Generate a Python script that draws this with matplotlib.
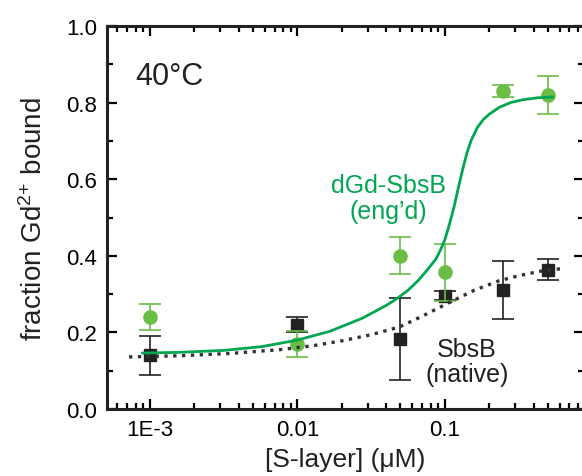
import matplotlib
matplotlib.use('Agg')
import matplotlib.pyplot as plt
from matplotlib.ticker import FixedLocator, LogLocator, MultipleLocator, FuncFormatter, NullFormatter

plt.rcParams['font.family'] = ['Liberation Sans', 'DejaVu Sans']
plt.rcParams['mathtext.default'] = 'regular'

# measured points
conc = [0.001, 0.01, 0.05, 0.1, 0.25, 0.5]
eng_frac = [0.24, 0.17, 0.40, 0.357, 0.83, 0.82]
eng_err = [0.033, 0.033, 0.048, 0.074, 0.016, 0.05]
nat_frac = [0.14, 0.22, 0.183, 0.296, 0.31, 0.364]
nat_err = [0.05, 0.02, 0.107, 0.012, 0.076, 0.028]

# fit curves
eng_fit_x = [0.00089, 0.00158, 0.00316, 0.00575, 0.0100, 0.0166, 0.0275, 0.0398, 0.0468,
             0.0562, 0.0661, 0.0759, 0.0871, 0.0933, 0.100, 0.107, 0.115, 0.123, 0.132,
             0.141, 0.151, 0.166, 0.182, 0.200, 0.234, 0.282, 0.339, 0.427, 0.537]
eng_fit_y = [0.146, 0.148, 0.153, 0.163, 0.180, 0.203, 0.237, 0.270, 0.287,
             0.310, 0.336, 0.363, 0.392, 0.415, 0.442, 0.480, 0.525, 0.575, 0.625,
             0.668, 0.702, 0.735, 0.756, 0.770, 0.788, 0.801, 0.808, 0.813, 0.815]
nat_fit_x = [0.00072, 0.00158, 0.00347, 0.00759, 0.0126, 0.0200, 0.0316, 0.0490,
             0.0708, 0.107, 0.158, 0.234, 0.316, 0.447, 0.631]
nat_fit_y = [0.136, 0.139, 0.145, 0.155, 0.165, 0.178, 0.194, 0.214,
             0.243, 0.278, 0.310, 0.335, 0.348, 0.360, 0.367]

green_line = '#00a651'
green_pts = '#6abd45'
dark = '#222222'

fig = plt.figure(figsize=(5.82, 4.77), dpi=100)
ax = fig.add_axes([0.184, 0.1405, 0.819, 0.8025])

ax.errorbar(conc, nat_frac, yerr=nat_err, fmt='s', color=dark, ms=8.5,
            elinewidth=1.2, capsize=8, capthick=1.2, zorder=3)
ax.errorbar(conc, eng_frac, yerr=eng_err, fmt='o', color=green_pts, ms=9.5,
            elinewidth=1.2, capsize=8, capthick=1.2, zorder=4)
ax.plot(nat_fit_x, nat_fit_y, ':', color='#333333', lw=2.4, zorder=5)
ax.plot(eng_fit_x, eng_fit_y, '-', color=green_line, lw=2.0, zorder=6)

ax.set_xscale('log')
ax.set_xlim(5.11e-4, 0.876)
ax.set_ylim(0, 1.0)

ax.xaxis.set_major_locator(FixedLocator([0.001, 0.01, 0.1]))
ax.xaxis.set_major_formatter(FuncFormatter(lambda v, p: {0.001: '1E-3', 0.01: '0.01', 0.1: '0.1'}.get(round(v, 4), '')))
ax.xaxis.set_minor_locator(LogLocator(base=10, subs=range(2, 10), numticks=20))
ax.xaxis.set_minor_formatter(NullFormatter())
ax.yaxis.set_major_locator(MultipleLocator(0.2))
ax.yaxis.set_minor_locator(MultipleLocator(0.1))
ax.yaxis.set_major_formatter(FuncFormatter(lambda v, p: '%.1f' % v))

ax.tick_params(which='both', direction='in', top=True, right=True, width=1.6, labelsize=16)
ax.tick_params(which='major', length=7, pad=7)
ax.tick_params(which='minor', length=4)
for s in ax.spines.values():
    s.set_linewidth(2.2)
    s.set_color(dark)

ax.set_xlabel('[S-layer] (μM)', fontsize=19, labelpad=5, color=dark)
ax.set_ylabel('fraction Gd$^{2{+}}$ bound', fontsize=20, labelpad=13, color=dark)

ax.text(0.059, 0.87, '40°C', transform=ax.transAxes, fontsize=22, va='center', ha='left', color=dark)
ax.text(0.591, 0.551, 'dGd-SbsB\n(eng’d)', transform=ax.transAxes, fontsize=18, color=green_line,
        ha='center', va='center', linespacing=1.1)
ax.text(0.755, 0.123, 'SbsB\n(native)', transform=ax.transAxes, fontsize=18, color=dark,
        ha='center', va='center', linespacing=1.05)

fig.savefig('out.png', dpi=100)
